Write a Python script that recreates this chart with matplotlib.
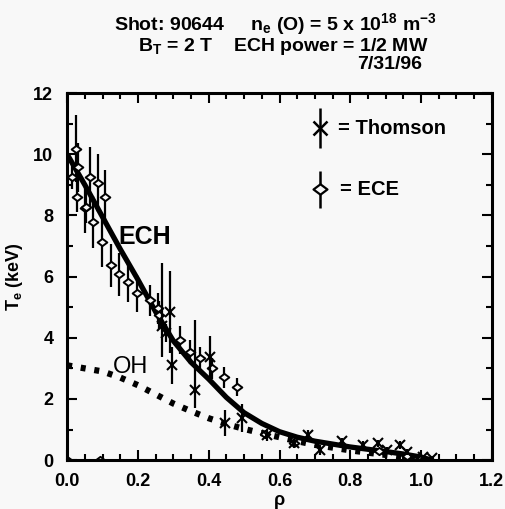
import numpy as np
import matplotlib
matplotlib.use("Agg")
import matplotlib.pyplot as plt
from matplotlib.path import Path

plt.rcParams['font.family'] = ['Liberation Sans', 'DejaVu Sans']
plt.rcParams['font.weight'] = 'bold'
plt.rcParams['axes.labelweight'] = 'bold'
plt.rcParams['mathtext.fontset'] = 'custom'
plt.rcParams['mathtext.rm'] = 'Liberation Sans:bold'
plt.rcParams['mathtext.bf'] = 'Liberation Sans:bold'
plt.rcParams['mathtext.it'] = 'Liberation Sans:bold'

# fitted profiles
ech_rho = [0.0, 0.05, 0.10, 0.15, 0.20, 0.25, 0.30, 0.35, 0.40, 0.45, 0.50,
           0.55, 0.60, 0.65, 0.70, 0.80, 0.90, 0.95, 1.00, 1.03]
ech_te = [10.0, 9.0, 7.95, 6.9, 5.9, 4.85, 3.9, 3.2, 2.65, 2.05, 1.55,
          1.2, 0.93, 0.75, 0.62, 0.43, 0.28, 0.2, 0.1, 0.0]
oh_rho = [0.0, 0.05, 0.10, 0.15, 0.20, 0.25, 0.30, 0.35, 0.40, 0.45, 0.50,
          0.55, 0.60, 0.65, 0.70, 0.80, 0.90, 1.00]
oh_te = [3.1, 3.0, 2.9, 2.7, 2.45, 2.15, 1.85, 1.6, 1.37, 1.18, 1.02,
         0.88, 0.75, 0.62, 0.5, 0.32, 0.17, 0.03]

# ECE points
ece_rho = [0.0, 0.093, 0.015, 0.025, 0.028, 0.031, 0.051, 0.054, 0.065, 0.074, 0.088,
           0.099, 0.107, 0.124, 0.147, 0.172, 0.197, 0.234, 0.258, 0.26,
           0.319, 0.347, 0.376, 0.409, 0.443, 0.48, 0.56, 0.64, 0.88, 0.96, 1.0]
ece_te = [0.0, 0.0, 9.25, 10.19, 8.6, 9.58, 8.23, 8.27, 9.25, 7.78, 9.05,
          7.12, 8.6, 6.37, 6.08, 5.82, 5.45, 5.22, 4.96, 4.74,
          3.92, 3.53, 3.33, 3.0, 2.71, 2.39, 0.85, 0.55, 0.3, 0.12, 0.05]
ece_err = [0.0, 0.0, 0.4, 1.1, 0.5, 0.8, 0.8, 0.5, 1.0, 0.85, 0.95,
           0.8, 0.9, 0.7, 0.7, 0.65, 0.6, 0.5, 0.5, 0.45,
           0.45, 0.4, 0.38, 0.35, 0.35, 0.3, 0.1, 0.1, 0.05, 0.05, 0.03]

# Thomson points
ts_rho = [0.268, 0.28, 0.29, 0.296, 0.36, 0.404, 0.446, 0.494, 0.565, 0.64, 0.68,
          0.715, 0.776, 0.836, 0.878, 0.905, 0.94, 0.96, 1.006, 1.03]
ts_te = [4.4, 4.15, 4.84, 3.1, 2.29, 3.37, 1.21, 1.37, 0.82, 0.55, 0.82,
         0.33, 0.62, 0.49, 0.55, 0.33, 0.49, 0.26, 0.1, 0.06]
ts_lo = [1.03, 0.3, 1.35, 0.6, 0.6, 0.7, 0.43, 0.45, 0.2, 0.15, 0.15,
         0.15, 0.12, 0.12, 0.12, 0.1, 0.12, 0.1, 0.08, 0.05]
ts_hi = [2.04, 0.3, 1.35, 0.6, 2.28, 0.7, 0.43, 0.45, 0.2, 0.15, 0.15,
         0.15, 0.12, 0.12, 0.12, 0.1, 0.12, 0.1, 0.08, 0.05]

bg = '#f8f8f8'
diamond = Path([(-1, 0), (0, 0.75), (1, 0), (0, -0.75), (-1, 0)],
               [Path.MOVETO, Path.LINETO, Path.LINETO, Path.LINETO, Path.CLOSEPOLY])

fig = plt.figure(figsize=(5.05, 5.09), dpi=100, facecolor=bg)
ax = fig.add_axes([0.133, 0.096, 0.841, 0.721], facecolor=bg)

ax.plot(ech_rho, ech_te, color='black', lw=3.8, solid_capstyle='butt')
ax.plot(oh_rho, oh_te, color='black', lw=4.5, dashes=(0.8, 1.4))

ax.errorbar(ece_rho, ece_te, yerr=ece_err, fmt='none', ecolor='black', elinewidth=1.6)
ax.plot(ece_rho, ece_te, ls='none', marker=diamond, ms=7, mfc=bg, mec='black', mew=1.4)
ax.errorbar(ts_rho, ts_te, yerr=[ts_lo, ts_hi], fmt='none', ecolor='black', elinewidth=1.6)
ax.plot(ts_rho, ts_te, ls='none', marker='x', ms=7, mec='black', mew=1.5)

# legend
ax.errorbar([0.714], [10.85], yerr=[0.65], fmt='none', ecolor='black', elinewidth=1.8)
ax.plot([0.714], [10.85], ls='none', marker='x', ms=10, mec='black', mew=1.8)
ax.text(0.765, 10.85, '= Thomson', fontsize=14.5, va='center', ha='left')
ax.errorbar([0.714], [8.85], yerr=[0.62], fmt='none', ecolor='black', elinewidth=1.8)
ax.plot([0.714], [8.85], ls='none', marker=diamond, ms=10, mfc=bg, mec='black', mew=1.6)
ax.text(0.77, 8.85, '= ECE', fontsize=14.5, va='center', ha='left')

ax.text(0.22, 7.3, 'ECH', fontsize=18, ha='center', va='center')
ax.text(0.18, 3.05, 'OH', fontsize=17, ha='center', va='center', fontweight='medium')

ax.set_xlim(0, 1.2)
ax.set_ylim(0, 12)
ax.set_xticks(np.arange(0, 1.21, 0.2))
ax.set_xticks(np.arange(0, 1.21, 0.05), minor=True)
ax.set_yticks(np.arange(0, 13, 2))
ax.set_yticks(np.arange(0, 13, 1), minor=True)
ax.set_xticklabels(['%.1f' % v for v in np.arange(0, 1.21, 0.2)], fontweight='bold')
ax.set_yticklabels([str(v) for v in range(0, 13, 2)], fontweight='bold')
ax.tick_params(which='both', direction='in', top=True, right=True, width=1.5, labelsize=13)
ax.tick_params(which='major', length=7)
ax.tick_params(which='minor', length=4)
ax.tick_params(axis='x', pad=9)
ax.tick_params(axis='y', pad=10)
for s in ax.spines.values():
    s.set_linewidth(2.2)

ax.set_xlabel('ρ', fontsize=13, labelpad=2, fontweight='bold')
ax.set_ylabel('$\\mathbf{T_e}$ (keV)', fontsize=13, fontweight='bold')
ax.yaxis.set_label_coords(-0.1, 0.5)

fig.text(0.545, 0.953, 'Shot: 90644     n$_\\mathbf{e}$ (O) = 5 x 10$^\\mathbf{18}$ m$^\\mathbf{-3}$',
         fontsize=14, ha='center', va='center')
fig.text(0.56, 0.909, 'B$_\\mathbf{T}$ = 2 T    ECH power = 1/2 MW', fontsize=14, ha='center', va='center')
fig.text(0.836, 0.874, '7/31/96', fontsize=14, ha='right', va='center')

fig.savefig('out.png', dpi=100, facecolor=bg)
